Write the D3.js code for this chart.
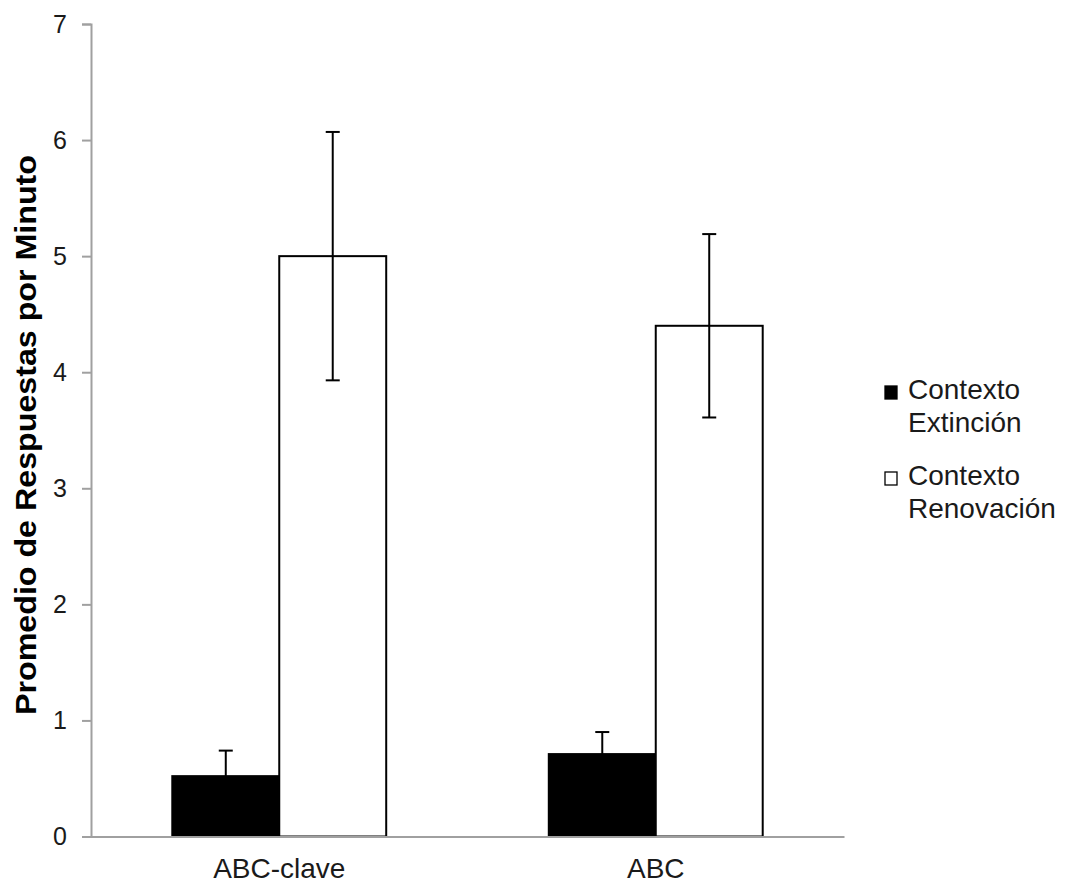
<!DOCTYPE html>
<html>
<head>
<meta charset="utf-8">
<script src="https://cdn.jsdelivr.net/npm/d3@7"></script>
<style>
  html, body { margin: 0; padding: 0; background: #fff; }
  svg { display: block; font-family: "Liberation Sans", Arial, sans-serif; }
</style>
</head>
<body>
<svg id="chart" width="1067" height="884"></svg>
<script>
const categories = ["ABC-clave", "ABC"];
const seriesNames = ["Contexto Extinción", "Contexto Renovación"];
const extincion = [0.52, 0.71];
const extincionErr = [0.22, 0.19];
const renovacion = [5.0, 4.4];
const renovacionErr = [1.07, 0.79];
const yTicks = [0, 1, 2, 3, 4, 5, 6, 7];
const yLabel = "Promedio de Respuestas por Minuto";

const svg = d3.select("#chart");
const mLeft = 91, mRight = 844, mTop = 24, mBottom = 836.5;

const y = d3.scaleLinear().domain([0, 7]).range([mBottom, mTop]);
const x0 = d3.scaleBand().domain(categories).range([mLeft, mRight]).padding(0);
const x1 = d3.scaleBand().domain([0, 1]).range([0, x0.bandwidth()]).paddingInner(0).paddingOuter(0.76);

const data = categories.map((c, i) => ({
  cat: c,
  bars: [
    { s: 0, v: extincion[i], e: extincionErr[i], fill: "#000" },
    { s: 1, v: renovacion[i], e: renovacionErr[i], fill: "#fff" }
  ]
}));

// y axis
const yAxis = svg.append("g").attr("transform", `translate(${mLeft},0)`)
  .call(d3.axisLeft(y).tickValues(yTicks).tickSize(9).tickPadding(15).tickFormat(d3.format("d")));
yAxis.select(".domain").attr("stroke", "#a0a0a0").attr("stroke-width", 2);
yAxis.selectAll(".tick line").attr("stroke", "#a0a0a0").attr("stroke-width", 2);
yAxis.selectAll(".tick text").attr("font-size", 25).attr("fill", "#1a1a1a")
  .attr("font-family", "'Liberation Sans', Arial, sans-serif");

// groups of bars
const g = svg.append("g");
const groups = g.selectAll("g.grp").data(data).join("g")
  .attr("transform", d => `translate(${x0(d.cat)},0)`);

groups.selectAll("rect").data(d => d.bars).join("rect")
  .attr("x", d => x1(d.s))
  .attr("y", d => y(d.v))
  .attr("width", x1.bandwidth())
  .attr("height", d => y(0) - y(d.v))
  .attr("fill", d => d.fill)
  .attr("stroke", "#000")
  .attr("stroke-width", 2);

// error bars
groups.each(function(d) {
  const gg = d3.select(this);
  d.bars.forEach(b => {
    const cx = x1(b.s) + x1.bandwidth() / 2;
    const col = "#000";
    gg.append("line").attr("x1", cx).attr("x2", cx)
      .attr("y1", y(b.v + b.e)).attr("y2", y(b.v - b.e))
      .attr("stroke", col).attr("stroke-width", 2);
    [b.v + b.e, b.v - b.e].forEach(val => {
      gg.append("line").attr("x1", cx - 7).attr("x2", cx + 7)
        .attr("y1", y(val)).attr("y2", y(val))
        .attr("stroke", col).attr("stroke-width", 2);
    });
  });
});

// x axis
const xAxis = svg.append("g").attr("transform", `translate(0,${mBottom})`)
  .call(d3.axisBottom(x0).tickSize(0).tickPadding(22));
xAxis.select(".domain").attr("stroke", "#a0a0a0").attr("stroke-width", 2);
xAxis.selectAll(".tick text").attr("font-size", 28).attr("fill", "#1a1a1a")
  .attr("font-family", "'Liberation Sans', Arial, sans-serif");

// y label
svg.append("text")
  .attr("transform", `translate(36,${(155 + 715) / 2}) rotate(-90)`)
  .attr("text-anchor", "middle")
  .attr("font-size", 29)
  .attr("font-weight", "bold")
  .attr("fill", "#000")
  .attr("textLength", 560)
  .attr("lengthAdjust", "spacingAndGlyphs")
  .text(yLabel);

// legend
const legend = svg.append("g");
const legendItems = [
  { fill: "#000", lines: ["Contexto", "Extinción"], y0: 399 },
  { fill: "#fff", lines: ["Contexto", "Renovación"], y0: 485 }
];
legendItems.forEach((it) => {
  legend.append("rect").attr("x", 885).attr("y", it.y0 - 13)
    .attr("width", 12).attr("height", 13)
    .attr("fill", it.fill).attr("stroke", "#000").attr("stroke-width", 1.3);
  it.lines.forEach((t, j) => {
    legend.append("text").attr("x", 908).attr("y", it.y0 + j * 33)
      .attr("font-size", 28).attr("fill", "#1a1a1a").text(t);
  });
});
</script>
</body>
</html>
